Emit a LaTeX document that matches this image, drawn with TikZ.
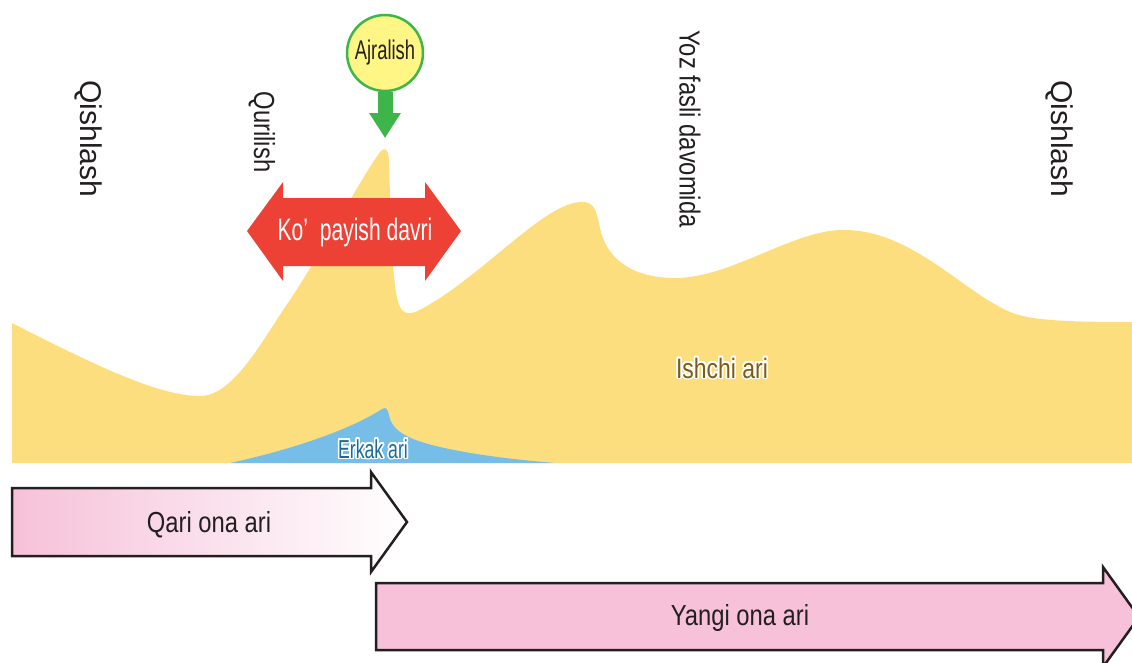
\documentclass[tikz,border=0pt]{standalone}
\usepackage{fontspec}
\setmainfont{Liberation Sans}
\newfontfamily\condfont[FakeStretch=0.82]{Liberation Sans}
\newfontfamily\narrowfont[FakeStretch=0.68]{Liberation Sans}
\usepackage{contour}
\contourlength{1.6pt}
\usetikzlibrary{arrows.meta}

\definecolor{ink}{HTML}{231F20}
\definecolor{asal}{HTML}{FDDE7E}
\definecolor{erkak}{HTML}{76BDE8}
\definecolor{erkakink}{HTML}{1A6B9A}
\definecolor{ishchiink}{HTML}{7B5B15}
\definecolor{qizil}{HTML}{EE4136}
\definecolor{yashil}{HTML}{3DB54A}
\definecolor{sariq}{HTML}{FFF685}
\definecolor{pushti}{HTML}{F6C1D9}

\begin{document}
\begin{tikzpicture}[
	x=1pt, y=-1pt,
	line join=miter
]
\tikzset{
	season/.style = {rotate=-90, text=ink, font=\fontsize{30}{30}\selectfont},
	phase/.style = {rotate=-90, text=ink, font=\condfont\fontsize{29}{29}\selectfont},
	banner/.style = {draw=ink, line width=2.5pt},
	bannertext/.style = {anchor=base, text=ink, font=\condfont\fontsize{29}{29}\selectfont},
	areatext/.style = {anchor=base, font=\narrowfont\fontsize{26}{26}\selectfont},
}
\useasboundingbox (0,0) rectangle (1132,662);

\fill[asal] (12,323) .. controls (100,368) and (160,396) .. (200,396)
	.. controls (235,396) and (265,335) .. (290,300)
	.. controls (320,255) and (360,180) .. (378,155)
	.. controls (383,147) and (388,146) .. (389,160)
	.. controls (391,230) and (392,300) .. (402,310)
	.. controls (410,318) and (420,310) .. (440,298)
	.. controls (500,258) and (550,200) .. (584,202)
	.. controls (596,203) and (597,215) .. (600,228)
	.. controls (608,265) and (640,278) .. (675,278)
	.. controls (730,278) and (790,232) .. (840,230)
	.. controls (910,228) and (960,290) .. (1010,312)
	.. controls (1030,320) and (1060,322) .. (1132,322)
	-- (1132,463) -- (12,463) -- cycle;
\fill[erkak] (230,463) .. controls (290,450) and (350,430) .. (382,409)
	.. controls (386,406) and (388,410) .. (389,415)
	.. controls (392,432) and (410,440) .. (440,447)
	.. controls (480,456) and (520,460) .. (555,463) -- cycle;
\node (ishchi) [areatext, text=ishchiink, font=\condfont\fontsize{28}{28}\selectfont] at (722,378) {\contour{white}{Ishchi ari}};
\node (erkakari) [areatext, text=erkakink] at (373,458) {\contour{white}{Erkak ari}};

\fill[qizil] (247,231) -- (283,182) -- (283,198) -- (425,198) -- (425,182) -- (461,231)
	-- (425,281) -- (425,266) -- (283,266) -- (283,281) -- cycle;
\node (kopayish) [anchor=base, text=white, font=\narrowfont\fontsize{31}{31}\selectfont] at (355,240) {Ko’~ payish davri};

\node (ajralish) [circle, draw=yashil, line width=2.5pt, fill=sariq, minimum size=76pt, inner sep=0pt,
	text=ink, font=\narrowfont\fontsize{27}{27}\selectfont] at (385,53) {Ajralish};
\coordinate (uchi) at (385,138);
\draw[yashil, line width=15pt, -{Triangle[width=30pt,length=25pt]}] (ajralish.south) -- (uchi);

\node (qishlash1) [season] at (89,139) {Qishlash};
\node (qurilish) [phase] at (262,132) {Qurilish};
\node (yoz) [phase] at (690,129) {Yoz fasli davomida};
\node (qishlash2) [season] at (1060,139) {Qishlash};

\draw[banner, left color=pushti, right color=white] (12,488) -- (371,488) -- (371,472) -- (407,522)
	-- (371,572) -- (371,556) -- (12,556) -- cycle;
\node (qari) [bannertext] at (209,532) {Qari ona ari};

\draw[banner, fill=pushti] (376,583) -- (1103,583) -- (1103,567) -- (1139,617)
	-- (1103,667) -- (1103,650) -- (376,650) -- cycle;
\node (yangi) [bannertext] at (740,625) {Yangi ona ari};
\end{tikzpicture}
\end{document}
